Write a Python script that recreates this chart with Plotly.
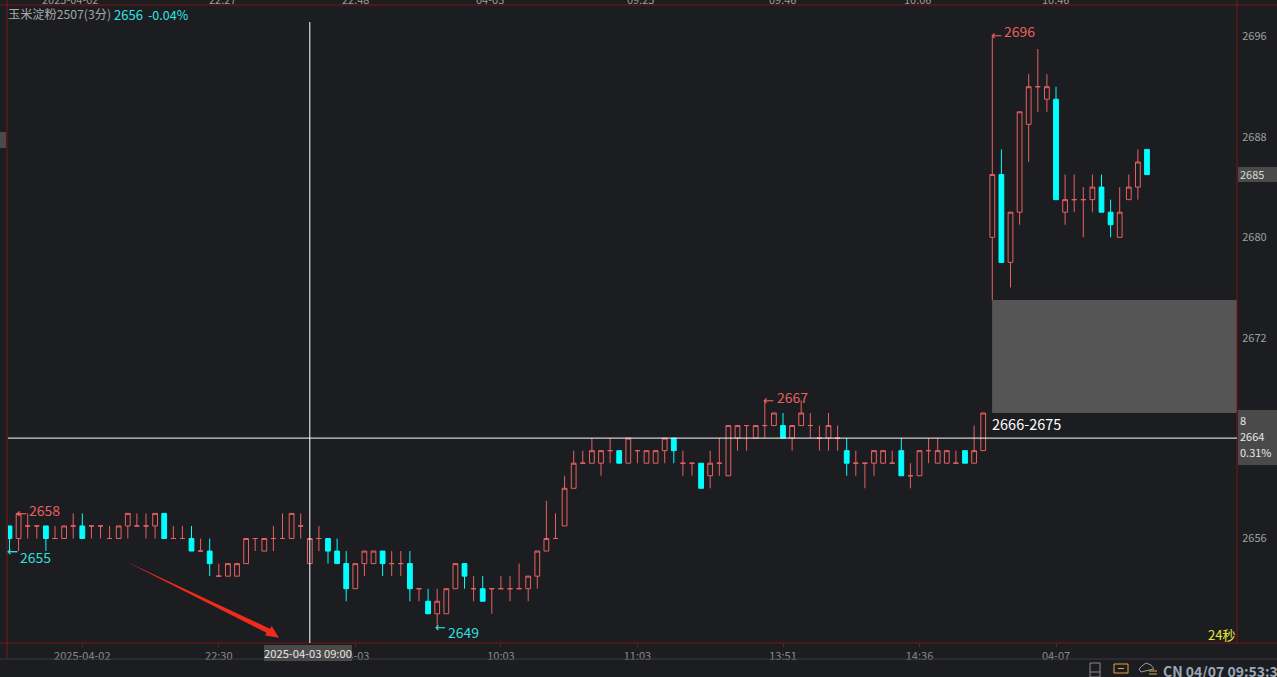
import plotly.graph_objects as go

# one row per candle: open, high, low, close
opens = [2657,2656,2657,2657,2657,2656,2656,2657,2657,2657,2657,2656,2656,2657,2657,2657,2657,2658,2656,2656,
         2656,2655,2655,2653,2653,2653,2654,2656,2655,2656,2656,2656,2657,2654,2656,2656,2655,2654,2652,2654,
         2654,2655,2654,2654,2654,2652,2651,2650,2650,2652,2654,2652,2652,2652,2652,2652,2652,2652,2653,2655,
         2656,2657,2660,2662,2662,2662,2663,2663,2662,2663,2662,2662,2663,2664,2662,2662,2662,2661,2662,2661,
         2664,2665,2664,2665,2665,2665,2664,2665,2665,2664,2664,2664,2663,2662,2662,2662,2662,2662,2663,2661,
         2661,2663,2662,2662,2662,2663,2662,2663,2680,2685,2678,2682,2689,2692,2691,2691,2682,2683,2683,2683,
         2684,2682,2680,2683,2684,2687]
highs = [2657,2658,2658,2657,2657,2657,2657,2658,2658,2657,2657,2657,2657,2658,2658,2658,2658,2658,2657,2657,
         2657,2656,2656,2654,2654,2654,2656,2656,2656,2657,2658,2658,2658,2656,2657,2656,2656,2655,2654,2655,
         2655,2655,2655,2655,2655,2652,2652,2652,2652,2654,2654,2653,2653,2652,2653,2653,2654,2653,2655,2659,
         2658,2661,2663,2663,2664,2663,2664,2663,2664,2663,2663,2663,2664,2664,2663,2662,2662,2663,2664,2665,
         2665,2665,2665,2667,2666,2666,2665,2667,2666,2665,2666,2665,2664,2663,2662,2663,2663,2663,2664,2662,
         2663,2664,2664,2663,2663,2663,2665,2666,2696,2687,2682,2690,2693,2695,2693,2692,2685,2685,2684,2685,
         2685,2683,2684,2685,2687,2687]
lows = [2655,2655,2656,2656,2655,2656,2656,2656,2656,2656,2656,2656,2656,2656,2657,2656,2656,2656,2656,2656,
        2655,2655,2653,2653,2653,2653,2654,2655,2655,2655,2656,2656,2656,2654,2655,2654,2654,2651,2652,2653,
        2654,2653,2653,2653,2651,2651,2650,2649,2650,2652,2652,2651,2651,2650,2652,2651,2652,2651,2652,2655,
        2656,2657,2660,2662,2662,2661,2662,2662,2662,2662,2662,2662,2662,2662,2661,2661,2660,2660,2661,2661,
        2663,2663,2664,2664,2665,2664,2663,2665,2664,2663,2663,2663,2661,2661,2660,2661,2662,2662,2661,2660,
        2661,2662,2662,2662,2662,2662,2662,2663,2675,2678,2676,2681,2686,2690,2690,2683,2681,2682,2680,2682,
        2682,2680,2680,2683,2683,2685]
closes = [2656,2658,2657,2657,2656,2656,2657,2657,2656,2657,2657,2656,2657,2658,2657,2657,2658,2656,2656,2656,
          2655,2655,2654,2653,2654,2654,2656,2656,2656,2656,2656,2658,2657,2656,2656,2655,2654,2652,2654,2655,
          2655,2654,2654,2654,2652,2652,2650,2651,2652,2654,2653,2652,2651,2652,2652,2652,2652,2653,2655,2656,
          2656,2660,2662,2662,2663,2663,2663,2662,2664,2663,2663,2663,2664,2663,2662,2662,2660,2662,2662,2665,
          2665,2665,2665,2665,2666,2664,2665,2666,2665,2664,2665,2664,2662,2662,2662,2663,2663,2662,2661,2661,
          2663,2663,2663,2663,2662,2662,2663,2666,2685,2678,2682,2690,2692,2692,2692,2683,2683,2683,2683,2684,
          2682,2681,2682,2684,2686,2685]

y_ticks = [2696, 2688, 2680, 2672, 2656]
x_tick_pos = [8, 23, 38, 54, 69, 85, 100, 115]
x_tick_txt = ["2025-04-02", "22:30", "04-03", "10:03", "11:03", "13:51", "14:36", "04-07"]
top_labels = [("2025-04-02", 70), ("22:27", 222), ("22:48", 355), ("04-03", 490),
              ("09:25", 640), ("09:46", 782), ("10:06", 917), ("10:46", 1055)]

BG = "#1c1d21"; RED = "#e86060"; CYAN = "#00ffff"; FRAME = "#7d1616"
W, H = 1277, 677
L, R, T, B = 8, 1237, 5, 643
FONT = "Noto Sans CJK SC"

def dx(p): return (p - 9.5) / 9.1
def dy(p): return 2656 + (538.5 - p) / 12.55
def X(p): return (p - L) / (R - L)
def Y(p): return (B - p) / (B - T)

n = range(len(opens))
up = [i for i in n if closes[i] >= opens[i]]
dn = [i for i in n if closes[i] < opens[i]]

def candles(idx, color, fill):
    side = dict(line=dict(color=color, width=1), fillcolor=fill)
    return go.Candlestick(x=idx, open=[opens[i] for i in idx], high=[highs[i] for i in idx],
                          low=[lows[i] for i in idx], close=[closes[i] for i in idx],
                          increasing=side, decreasing=side, whiskerwidth=0, showlegend=False,
                          hoverinfo="skip")

fig = go.Figure([candles(up, RED, BG), candles(dn, CYAN, CYAN)])

def pline(x0, y0, x1, y1, color, w=1):
    return dict(type="line", xref="paper", yref="paper", x0=X(x0), y0=Y(y0), x1=X(x1), y1=Y(y1),
                line=dict(color=color, width=w))
def prect(x0, y0, x1, y1, fill=None, line=None, layer="above"):
    return dict(type="rect", xref="paper", yref="paper", x0=X(x0), y0=Y(y0), x1=X(x1), y1=Y(y1),
                fillcolor=fill or "rgba(0,0,0,0)", line=dict(color=line or "rgba(0,0,0,0)", width=1), layer=layer)
def ppath(pts, fill=None, line=None):
    d = "M" + " L".join(f"{X(a):.5f},{Y(b):.5f}" for a, b in pts) + " Z"
    return dict(type="path", xref="paper", yref="paper", path=d, fillcolor=fill or "rgba(0,0,0,0)",
                line=dict(color=line or "rgba(0,0,0,0)", width=1))

shapes = [
    dict(type="rect", xref="x", yref="y", x0=108 - 0.02, x1=dx(R), y0=2666, y1=2675,
         fillcolor="#555555", line=dict(width=0), layer="below"),
    pline(0, T, W, T, FRAME), pline(0, B, W, B, FRAME), pline(7, 0, 7, 658, FRAME), pline(R, 0, R, B, FRAME),
    pline(0, 659, W, 659, "#3a3b3f"),
    dict(type="line", xref="paper", yref="y", x0=0, x1=1, y0=2664, y1=2664, line=dict(color="#ffffff", width=1)),
    dict(type="line", xref="x", yref="paper", x0=33, x1=33, y0=0, y1=Y(22), line=dict(color="#ffffff", width=1)),
    prect(0, 132, 6, 148, fill="#4a4a4a"),
    prect(1238, 167, W, 182, fill="#4a4a4a"),
    prect(1238, 410, W, 465, fill="#4a4a4a"),
    pline(8, 551.7, 17.5, 551.7, "#33dede"),
    ppath([(125, 561), (270, 628.8), (271.7, 626), (279, 637.7), (265.2, 635.5), (266.5, 632.8)], fill="#f02a1c"),
    prect(1090, 663, 1100, 677, line="#8a8a8a"),
    pline(1090, 672, 1100, 672, "#8a8a8a"),
    prect(1114, 664, 1128, 673, line="#e8a33a"),
    pline(1118, 668.5, 1124, 668.5, "#e8a33a"),
    ppath([(1141, 672), (1139, 669), (1142, 666), (1146, 663), (1151, 665), (1154, 669)], line="#9a9a9a"),
    pline(1149, 671, 1157, 671, "#e8a33a"), pline(1149, 674, 1157, 674, "#e8a33a"),
]

def text(s, x, y, color, size=13, anchor="left", bg=None, family=FONT, bold=False):
    if bold:
        s = f"<b>{s}</b>"
    return dict(text=s, xref="paper", yref="paper", x=X(x), y=Y(y), xanchor=anchor, yanchor="middle",
                showarrow=False, font=dict(color=color, size=size, family=family),
                bgcolor=bg or "rgba(0,0,0,0)", borderpad=0, borderwidth=0, align="left")

anns = [
    text("玉米淀粉2507(3分)", 8, 14, "#a8a8a8", 12.2),
    text("2656", 114, 14, "#2fe6e6", 13),
    text("-0.04%", 148, 14, "#2fe6e6", 12.5),
    text("2658", 29, 509.5, RED, 14), text("←", 16, 513, RED, 13, family="DejaVu Sans"),
    text("2655", 20, 556.5, "#33dede", 14), text("←", 7, 551, "#33dede", 13, family="DejaVu Sans"),
    text("2649", 448, 631.5, "#33dede", 14), text("←", 435, 627, "#33dede", 13, family="DejaVu Sans"),
    text("2667", 777, 396.5, RED, 14), text("←", 763, 400, RED, 13, family="DejaVu Sans"),
    text("2696", 1004, 31.5, RED, 14), text("←", 991, 35, RED, 13, family="DejaVu Sans"),
    text("2666-2675", 992, 423, "#ffffff", 14.5),
    text("24秒", 1208, 634, "#e6e63c", 13),
    text("2685", 1240, 174, "#d8d8d8", 11),
    text("8", 1240, 420, "#e8e8e8", 11),
    text("2664", 1240, 436, "#e8e8e8", 11),
    text("0.31%", 1240, 452, "#e8e8e8", 11),
    text("2025-04-03 09:00", 264, 653, "#e8e8e8", 11.2, bg="#4a4a4a"),
    text("CN 04/07 09:53:3", 1163, 671, "#9aa8b8", 14, bold=True),
]
for s, px in top_labels:
    anns.append(text(s, px, -1, "#9a9a9a", 11, anchor="center"))

fig.update_layout(
    width=W, height=H, margin=dict(l=L, r=W - R, t=T, b=H - B),
    paper_bgcolor=BG, plot_bgcolor=BG, boxgap=0.25, boxmode="overlay",
    shapes=shapes, annotations=anns, showlegend=False,
    xaxis=dict(range=[dx(L), dx(R)], showgrid=False, zeroline=False, rangeslider=dict(visible=False),
               tickmode="array", tickvals=x_tick_pos, ticktext=x_tick_txt, ticks="outside", ticklen=3,
               tickcolor=FRAME, tickfont=dict(color="#8a8a8a", size=11, family=FONT)),
    yaxis=dict(range=[dy(B), dy(T)], side="right", showgrid=False, zeroline=False,
               tickmode="array", tickvals=y_ticks, ticks="outside", ticklen=2, tickcolor=BG,
               tickfont=dict(color="#a0a0a0", size=11, family=FONT)),
)
fig.write_html("out.html", config=dict(displayModeBar=False),
               post_script="document.body.style.margin='0';document.body.style.background='#1c1d21';")
